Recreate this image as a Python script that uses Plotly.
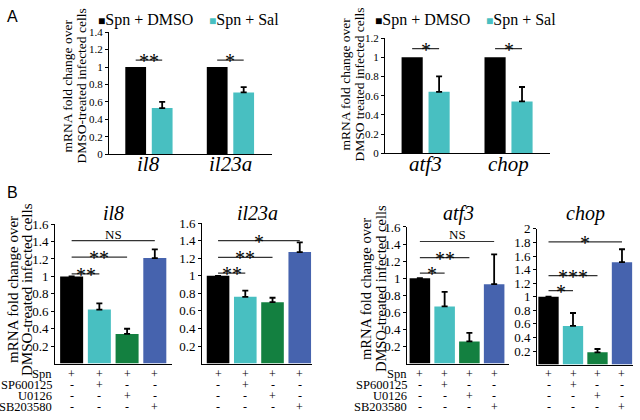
import plotly.graph_objects as go

# ---- data ----
genes_a1 = ["il8", "il23a"]
dmso_a1 = [1, 1]
sal_a1 = [0.53, 0.71]
sal_a1_err = [0.07, 0.06]

genes_a2 = ["atf3", "chop"]
dmso_a2 = [1, 1]
sal_a2 = [0.64, 0.54]
sal_a2_err = [0.16, 0.15]

conds = ["Spn", "SP600125", "U0126", "SB203580"]
signs = [
    ["+", "+", "+", "+"],
    ["-", "+", "-", "-"],
    ["-", "-", "+", "-"],
    ["-", "-", "-", "+"],
]
b_genes = ["il8", "il23a", "atf3", "chop"]
b_vals = {
    "il8":   [1, 0.62, 0.34, 1.21],
    "il23a": [1, 0.76, 0.70, 1.27],
    "atf3":  [1, 0.67, 0.26, 0.93],
    "chop":  [1, 0.57, 0.18, 1.51],
}
b_err = {
    "il8":   [0, 0.07, 0.06, 0.10],
    "il23a": [0, 0.07, 0.05, 0.11],
    "atf3":  [0, 0.17, 0.10, 0.35],
    "chop":  [0, 0.19, 0.05, 0.19],
}
# significance: (compared bar, label, bracket height)
sig_a1 = [(0, "**", 1.08), (1, "*", 1.08)]
sig_a2 = [(0, "*", 1.09), (1, "*", 1.09)]
sig_b = {
    "il8":   [(1, "**", 1.03), (2, "**", 1.22), (3, "NS", 1.41)],
    "il23a": [(1, "**", 1.03), (2, "**", 1.21), (3, "*", 1.40)],
    "atf3":  [(1, "*", 1.06), (2, "**", 1.24), (3, "NS", 1.43)],
    "chop":  [(1, "*", 1.09), (2, "***", 1.31), (3, "*", 1.81)],
}

BLACK = "#000000"
CYAN = "#48BFC1"
GREEN = "#138040"
BLUE = "#4663AE"
b_colors = [BLACK, CYAN, GREEN, BLUE]
SERIF = "Liberation Serif"
W, H = 640, 420


def dom(x0, x1, ytop, ybot):
    return [x0 / W, x1 / W], [1 - ybot / H, 1 - ytop / H]


def py(y):
    return 1 - y / H


# pixel boxes of the six plot areas: x0, x1, ytop, ybottom, xrange, ymax
boxes = {
    "a1":    (109, 272, 26, 152, [-0.49, 1.51], 1.4),
    "a2":    (385, 550, 32, 151, [-0.49, 1.5], 1.2),
    "il8":   (55, 172, 224, 368, [-0.6, 3.62], 1.6),
    "il23a": (202, 312, 223, 368, [-0.59, 3.45], 1.6),
    "atf3":  (407, 509, 227, 368, [-0.52, 3.6], 1.6),
    "chop":  (537, 633, 229, 369, [-0.47, 3.45], 2.0),
}
order = ["a1", "a2", "il8", "il23a", "atf3", "chop"]
row_y = [379, 390, 401, 413]

fig = go.Figure()
shapes = []
annos = []

for i, key in enumerate(order):
    n = "" if i == 0 else str(i + 1)
    xa, ya = "x" + n, "y" + n
    x0, x1, yt, yb, xr, ymax = boxes[key]
    xd, yd = dom(x0, x1, yt, yb)
    if key in ("a1", "a2"):
        yticks = [round(0.2 * k, 1) for k in range(int(round(ymax / 0.2)) + 1)]
        tfs = 11
    else:
        yticks = [round(0.2 * k, 1) for k in range(1, int(round(ymax / 0.2)) + 1)]
        tfs = 13
    fig.layout["xaxis" + n] = dict(
        domain=xd, range=xr, anchor=ya, showline=True, linecolor="black",
        linewidth=1, showgrid=False, zeroline=False, ticks="",
        showticklabels=False, fixedrange=True)
    fig.layout["yaxis" + n] = dict(
        domain=yd, range=[0, ymax], anchor=xa, showline=True,
        linecolor="black", linewidth=1, showgrid=False, zeroline=False,
        ticks="outside", ticklen=3, tickwidth=1, tickcolor="black",
        tickvals=yticks, tickfont=dict(family=SERIF, size=tfs, color="black"),
        fixedrange=True)

    if key in ("a1", "a2"):
        genes = genes_a1 if key == "a1" else genes_a2
        dm = dmso_a1 if key == "a1" else dmso_a2
        sl = sal_a1 if key == "a1" else sal_a2
        se = sal_a1_err if key == "a1" else sal_a2_err
        sig = sig_a1 if key == "a1" else sig_a2
        xs = list(range(len(genes)))
        fig.add_trace(go.Bar(x=xs, y=dm, offset=-0.29, width=0.255,
                             marker_color=BLACK, marker_line_width=0,
                             name="Spn + DMSO", showlegend=False,
                             xaxis=xa, yaxis=ya))
        fig.add_trace(go.Bar(x=xs, y=sl, offset=0.035, width=0.255,
                             marker_color=CYAN, marker_line_width=0,
                             name="Spn + Sal", showlegend=False,
                             error_y=dict(type="data", symmetric=False, array=se,
                                          arrayminus=[0] * len(se), color="black",
                                          thickness=1.8, width=3),
                             xaxis=xa, yaxis=ya))
        for g, gene in enumerate(genes):
            annos.append(dict(xref=xa, yref="paper", x=g, y=py(162), text=gene,
                              showarrow=False, yanchor="middle",
                              font=dict(family=SERIF, size=21, color="black",
                                        style="italic")))
        for g, lab, h in sig:
            xl, xr2 = g - 0.29 + 0.1275, g + 0.035 + 0.1275
            shapes.append(dict(type="line", xref=xa, yref=ya, x0=xl, x1=xr2,
                               y0=h, y1=h, line=dict(color="#333", width=1.2)))
            annos.append(dict(xref=xa, yref=ya, x=(xl + xr2) / 2, y=h,
                              text=lab, showarrow=False, yanchor="middle",
                              yshift=-1,
                              font=dict(family=SERIF, size=20, color="black")))
        # legend
        lx = 96 if key == "a1" else 373
        annos.append(dict(xref="paper", yref="paper", x=lx / W, y=py(13),
                          xanchor="left", yanchor="middle", showarrow=False,
                          text="<span style='font-size:12px'>■</span>Spn + DMSO",
                          font=dict(family=SERIF, size=16, color="black")))
        annos.append(dict(xref="paper", yref="paper", x=(lx + 111) / W, y=py(13),
                          xanchor="left", yanchor="middle", showarrow=False,
                          text="<span style='color:%s;font-size:12px'>■</span>Spn + Sal" % CYAN,
                          font=dict(family=SERIF, size=16, color="black")))
    else:
        vals = b_vals[key]
        xs = list(range(len(vals)))
        fig.add_trace(go.Bar(x=xs, y=vals, width=0.83, marker_color=b_colors,
                             marker_line_width=0, showlegend=False,
                             error_y=dict(type="data", symmetric=False,
                                          array=b_err[key],
                                          arrayminus=[0] * len(vals),
                                          color="black", thickness=1.8, width=3),
                             xaxis=xa, yaxis=ya))
        for j, lab, h in sig_b[key]:
            shapes.append(dict(type="line", xref=xa, yref=ya, x0=0, x1=j,
                               y0=h, y1=h, line=dict(color="#333", width=1.2)))
            if lab == "NS":
                annos.append(dict(xref=xa, yref=ya, x=j / 2, y=h, text=lab,
                                  showarrow=False, yanchor="bottom", yshift=-3,
                                  font=dict(family=SERIF, size=13, color="black")))
            else:
                annos.append(dict(xref=xa, yref=ya, x=j / 2, y=h, text=lab,
                                  showarrow=False, yanchor="middle", yshift=-1,
                                  font=dict(family=SERIF, size=20, color="black")))
        # gene title
        annos.append(dict(xref=xa + " domain", yref="paper", x=0.5, y=py(213),
                          text=key, showarrow=False, yanchor="middle",
                          font=dict(family=SERIF, size=20, color="black",
                                    style="italic")))
        # +/- table
        for r, row in enumerate(signs):
            for c, s in enumerate(row):
                annos.append(dict(xref=xa, yref="paper", x=c, y=py(row_y[r]),
                                  text=s, showarrow=False, yanchor="middle",
                                  font=dict(family=SERIF, size=12, color="black")))

# row labels of the treatment table
for lx in (54, 409):
    for r, name in enumerate(conds):
        annos.append(dict(xref="paper", yref="paper", x=lx / W,
                          y=py(row_y[r]), xanchor="right",
                          yanchor="middle", text=name, showarrow=False,
                          font=dict(family=SERIF, size=12.5, color="black")))

# y titles, one annotation per line
line1 = "mRNA fold change over"
line2a = "DMSO-treated infected cells"
line2b = "DMSO treated infected cells"
for xl1, xl2, y, l2, fs in [(67, 81, 82, line2a, 13.5),
                            (346, 360, 80, line2b, 13.5),
                            (13, 27, 292, line2a, 15),
                            (366, 381, 291, line2a, 14.5)]:
    for x, t in ((xl1, line1), (xl2, l2)):
        annos.append(dict(xref="paper", yref="paper", x=x / W, y=py(y),
                          text=t, textangle=-90, showarrow=False,
                          xanchor="center", yanchor="middle",
                          font=dict(family=SERIF, size=fs, color="black")))

# panel letters
for t, x, y in [("A", 12, 10), ("B", 12, 191)]:
    annos.append(dict(xref="paper", yref="paper", x=x / W, y=py(y), text=t,
                      showarrow=False, xanchor="center", yanchor="middle",
                      font=dict(family="Liberation Sans", size=16,
                                color="black")))

fig.update_layout(width=W, height=H, margin=dict(l=0, r=0, t=0, b=0),
                  barmode="overlay", plot_bgcolor="white", paper_bgcolor="white",
                  shapes=shapes, annotations=annos)
fig.write_html("out.html", config={"displayModeBar": False},
               post_script="document.body.style.margin='0';")
